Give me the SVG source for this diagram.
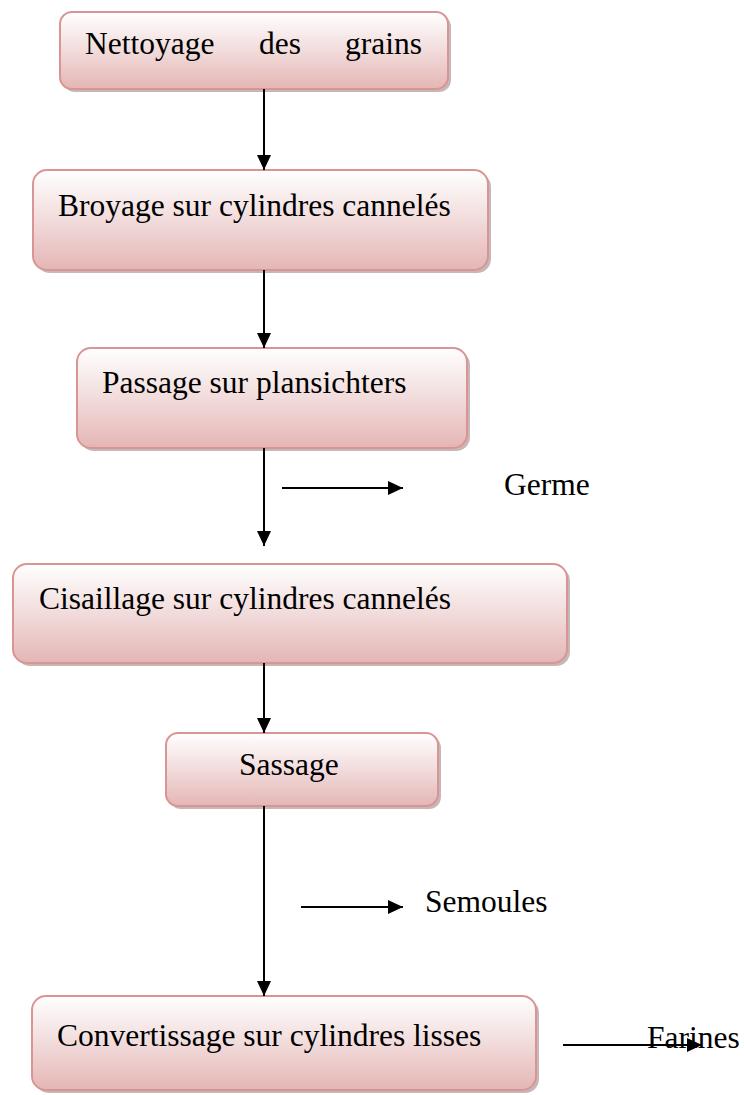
<svg xmlns="http://www.w3.org/2000/svg" width="744" height="1095" viewBox="0 0 744 1095">
<defs>
<linearGradient id="fillg" x1="0" y1="0" x2="0" y2="1">
<stop offset="0" stop-color="#ffffff"/>
<stop offset="0.45" stop-color="#f3dfdf"/>
<stop offset="1" stop-color="#e4b6b5"/>
</linearGradient>
<marker id="ah" markerUnits="userSpaceOnUse" markerWidth="16" markerHeight="14" refX="15" refY="7" orient="auto">
<path d="M0,0 L15,7 L0,14 Z" fill="#000"/>
</marker>
</defs>
<style>
.shadow{fill:#a08888;opacity:0.6}
.box{fill:url(#fillg);stroke:#d99594;stroke-width:2}
.t{font-family:"Liberation Serif","Times New Roman",serif;font-size:31.5px;fill:#000}
.c{stroke:#000;stroke-width:2;fill:none;marker-end:url(#ah)}
</style>
<rect width="744" height="1095" fill="#fff"/>
<g id="n1">
<rect class="shadow" x="63" y="15" width="388" height="77" rx="12"/>
<rect class="box" x="60" y="12" width="388" height="77" rx="12"/>
<text class="t" x="85" y="54">Nettoyage</text>
<text class="t" x="259" y="54">des</text>
<text class="t" x="345" y="54">grains</text>
</g>
<g id="n2">
<rect class="shadow" x="36" y="173" width="455" height="100" rx="14"/>
<rect class="box" x="33" y="170" width="455" height="100" rx="14"/>
<text class="t" x="58" y="216">Broyage sur cylindres cannelés</text>
</g>
<g id="n3">
<rect class="shadow" x="80" y="351" width="390" height="100" rx="14"/>
<rect class="box" x="77" y="348" width="390" height="100" rx="14"/>
<text class="t" x="102" y="393">Passage sur plansichters</text>
</g>
<g id="n4">
<rect class="shadow" x="16" y="567" width="554" height="99" rx="14"/>
<rect class="box" x="13" y="564" width="554" height="99" rx="14"/>
<text class="t" x="39" y="609">Cisaillage sur cylindres cannelés</text>
</g>
<g id="n5">
<rect class="shadow" x="169" y="736" width="272" height="73" rx="12"/>
<rect class="box" x="166" y="733" width="272" height="73" rx="12"/>
<text class="t" x="239" y="775">Sassage</text>
</g>
<g id="n6">
<rect class="shadow" x="35" y="999" width="504" height="94" rx="14"/>
<rect class="box" x="32" y="996" width="504" height="94" rx="14"/>
<text class="t" x="57" y="1046">Convertissage sur cylindres lisses</text>
</g>
<g id="labels">
<text class="t" x="504" y="495">Germe</text>
<text class="t" x="425" y="912">Semoules</text>
<text class="t" x="647" y="1048">Farines</text>
</g>
<g id="connectors">
<line class="c" x1="264" y1="89" x2="264" y2="170"/>
<line class="c" x1="264" y1="270" x2="264" y2="348"/>
<line class="c" x1="264" y1="448" x2="264" y2="546"/>
<line class="c" x1="264" y1="663" x2="264" y2="733"/>
<line class="c" x1="264" y1="806" x2="264" y2="996"/>
<line class="c" x1="282" y1="488" x2="403" y2="488"/>
<line class="c" x1="301" y1="907" x2="403" y2="907"/>
<line class="c" x1="563" y1="1045" x2="702" y2="1045"/>
</g>
</svg>
